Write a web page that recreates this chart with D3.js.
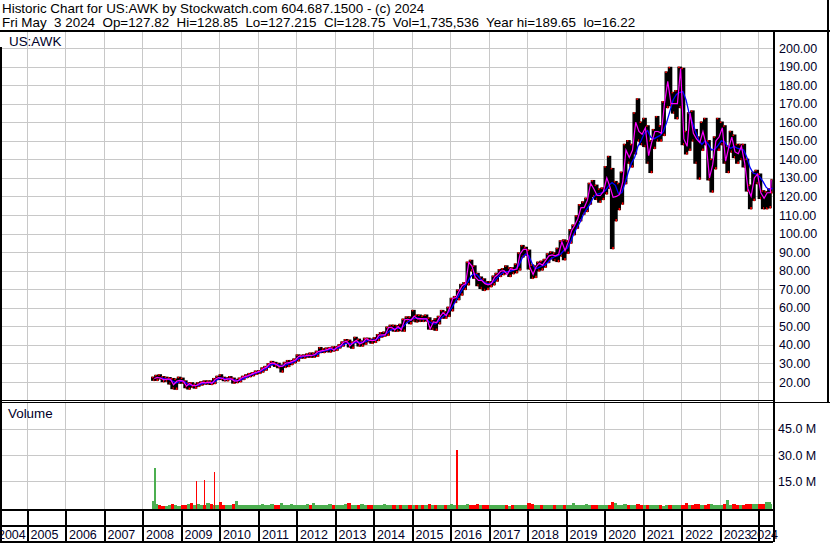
<!DOCTYPE html>
<html><head><meta charset="utf-8">
<script src="https://cdn.jsdelivr.net/npm/d3@7"></script>
<style>
body{margin:0;background:#fff;}
svg{display:block;font-family:Arial,"Liberation Sans",sans-serif;}
.pre{white-space:pre;}
</style></head><body>
<svg id="c" width="830" height="543"></svg>
<script>
// ---------------- DATA ----------------
const firstMonth = "2008-04"; // monthly series start (Apr 2008 .. May 2024)
const hi = [
22.5,23.5,23.8,22.8,22.5,22.3,21.8,21.5,22.5,
22.0,20.5,19.5,19.5,18.8,19.5,20.0,20.5,20.5,20.5,21.8,23.0,
23.8,22.5,22.2,22.8,22.0,21.3,22.0,23.0,23.8,24.5,25.0,25.8,
26.0,27.5,28.3,29.8,31.0,30.5,30.0,29.0,30.5,31.5,31.5,32.3,
34.5,34.3,34.5,35.0,35.5,35.5,36.5,38.5,37.8,38.2,38.5,38.8,
39.0,40.0,41.5,42.8,42.5,41.5,44.0,43.0,42.0,43.5,43.5,43.0,
43.8,45.5,46.5,46.8,49.5,50.5,50.5,50.3,51.0,53.8,55.0,55.0,
58.5,56.0,56.0,55.5,56.0,54.5,53.0,54.0,55.3,58.5,57.8,60.2,
65.0,66.0,69.5,72.5,73.5,84.5,85.5,82.5,78.5,76.5,75.5,74.0,
74.0,77.0,78.5,80.5,81.0,82.5,81.5,81.5,83.5,89.5,93.5,92.5,
91.0,83.0,82.5,84.5,85.0,86.0,89.0,90.0,89.5,92.0,96.0,96.5,
96.0,102.0,104.5,109.5,115.5,117.0,119.0,127.0,128.5,126.0,124.0,124.5,
136.0,141.5,135.0,128.0,127.0,133.0,148.0,150.0,148.0,165.0,172.5,160.0,
162.0,158.0,150.0,156.0,163.0,158.0,171.0,187.0,189.5,176.0,177.0,189.6,
189.0,155.0,165.0,166.0,156.0,152.0,160.0,162.0,150.0,140.0,152.0,162.0,
160.0,158.0,147.0,155.0,153.0,148.0,148.0,148.0,140.0,126.0,133.0,134.0,
132.0,123.0,122.5,124.0,128.9];
const lo = [
21.0,21.0,21.8,20.3,20.5,19.0,16.5,16.2,19.5,
19.5,17.0,16.3,17.3,16.8,17.8,18.5,19.0,19.0,18.8,19.3,21.5,
21.5,20.8,20.8,21.5,19.5,19.8,20.3,21.5,22.5,23.0,23.5,24.3,
24.8,25.5,26.5,28.0,29.3,28.5,27.8,25.5,28.0,28.5,29.5,30.5,
31.5,33.0,33.0,33.5,33.5,33.5,34.0,36.0,36.0,36.5,36.3,36.8,
37.2,38.5,39.5,41.0,39.0,38.3,41.3,39.5,39.5,40.5,41.8,41.0,
41.5,42.5,44.3,44.8,45.3,48.3,47.5,47.5,47.8,47.5,52.5,51.5,
53.0,52.5,52.8,52.8,53.0,48.6,48.5,48.0,51.5,54.5,54.5,55.5,
58.5,63.0,64.5,67.0,70.0,72.5,80.0,76.0,72.0,70.5,69.5,70.0,
71.5,72.5,74.5,77.0,78.0,78.5,77.0,78.5,79.0,80.5,87.5,88.5,
81.0,76.0,76.5,80.0,80.5,82.0,84.5,86.5,85.5,85.0,88.0,86.0,
89.5,95.0,99.5,103.0,107.0,110.5,112.0,116.0,120.0,118.5,117.0,118.5,
121.5,124.5,92.0,107.0,113.0,116.0,127.0,138.0,136.0,143.0,150.0,148.0,
147.0,138.0,133.0,146.0,150.0,150.0,153.0,168.0,169.0,165.0,162.0,168.0,
148.0,143.0,145.0,150.0,138.0,129.5,145.0,148.0,129.0,122.5,135.0,145.0,
148.0,138.0,133.0,144.0,141.0,138.0,140.0,136.0,123.0,113.5,118.0,127.0,
119.0,113.5,113.5,114.0,122.0];
const cl = [
21.9,22.5,22.0,21.2,21.5,21.5,18.5,20.5,20.9,
20.5,17.8,19.2,18.0,18.0,19.1,19.8,19.5,19.9,19.3,21.5,22.4,
22.0,21.2,21.7,21.7,20.5,20.6,21.9,22.8,23.3,24.0,24.8,25.3,
25.9,27.3,28.0,29.8,30.3,29.4,28.3,28.5,30.2,30.4,31.1,31.9,
33.8,34.0,34.0,34.5,34.3,34.8,36.3,36.8,37.1,37.6,38.4,37.1,
38.9,39.6,41.4,42.0,39.5,41.3,42.5,40.5,41.3,43.3,42.5,42.3,
42.6,45.3,45.4,45.4,49.3,49.5,48.0,49.8,48.2,53.5,53.8,53.3,
55.5,54.0,54.2,54.0,54.0,48.6,52.4,52.0,55.1,57.4,55.7,59.7,
65.0,65.5,69.0,72.0,73.0,84.5,82.5,76.6,74.8,74.8,73.0,72.4,
73.0,76.5,77.8,79.8,80.0,78.0,81.0,80.5,80.9,89.0,91.5,91.5,
82.0,78.0,82.0,84.0,83.0,85.5,88.0,88.5,88.0,88.8,95.5,90.7,
95.5,101.5,104.2,108.0,114.0,114.0,118.0,127.0,124.0,120.5,120.5,122.8,
130.0,125.0,119.5,120.0,121.0,128.0,145.0,141.0,145.0,160.0,155.0,153.5,
157.0,142.0,149.0,155.0,155.0,154.0,170.0,182.0,170.0,170.0,170.0,188.9,
151.0,147.0,165.0,154.0,151.0,149.0,155.0,148.0,130.0,137.0,150.0,152.0,
157.0,139.0,146.0,152.0,144.0,143.0,147.0,138.0,124.0,120.0,130.0,132.0,
122.0,119.0,122.0,122.0,128.8];
const ma = [
null,null,22.3,22.0,21.5,21.3,20.5,19.5,20.0,
20.6,19.8,18.5,18.3,18.0,18.3,19.0,19.5,19.7,19.6,20.0,21.3,
22.2,22.0,21.6,21.6,21.3,20.7,20.9,21.7,22.6,23.4,24.1,24.8,
25.3,26.2,27.1,28.3,29.4,29.8,29.2,28.4,28.9,29.6,30.3,31.0,
32.3,33.3,33.9,34.1,34.2,34.3,34.9,35.9,36.7,37.1,37.5,37.6,
38.0,38.6,39.8,40.8,40.9,40.6,41.3,41.5,41.3,41.8,42.4,42.6,
42.5,43.5,44.6,45.3,46.6,48.0,48.7,49.0,48.9,50.0,52.0,53.2,
54.2,54.6,54.3,54.1,54.1,52.5,51.5,51.3,52.8,54.8,56.2,57.5,
60.0,63.0,66.0,69.0,71.5,74.0,77.0,78.5,77.5,75.5,74.0,73.2,
73.0,74.0,75.8,77.5,79.0,79.5,79.5,80.2,80.8,83.0,87.0,89.0,
88.0,84.0,81.0,81.5,82.5,83.0,84.5,86.5,87.5,88.0,89.0,91.0,
92.0,95.5,99.5,103.0,106.0,110.0,113.0,115.5,119.0,121.0,121.5,122.0,
123.5,126.0,127.5,126.0,121.5,122.0,127.0,133.0,138.0,141.0,147.0,150.0,
154.0,155.5,152.0,151.0,152.0,153.0,155.0,160.0,166.0,172.0,175.0,176.0,
176.5,172.0,165.0,160.0,155.0,150.5,148.0,150.0,148.0,145.0,145.5,147.5,
150.0,149.5,147.0,146.0,147.0,146.0,145.5,145.0,141.0,135.5,132.5,132.0,
130.5,128.0,125.0,123.5,124.5];
const vol = [ // typical daily volume, millions
3.5,2.0,1.2,1.0,0.9,1.5,2.0,1.4,1.0,
1.2,1.4,1.8,2.5,1.6,2.2,1.2,1.5,2.8,2.0,1.2,1.6,
3.0,1.4,1.2,1.3,2.0,4.0,1.6,1.2,1.4,1.5,1.2,1.6,
1.4,1.8,1.5,1.3,2.0,1.6,1.3,2.4,1.6,1.4,1.8,1.3,
1.6,1.2,1.4,1.8,1.3,2.6,1.2,1.6,1.2,1.4,1.8,1.6,
1.4,1.6,1.2,1.8,2.4,1.6,1.4,1.2,2.0,1.4,1.2,1.6,
1.2,1.4,1.2,1.8,1.4,1.2,1.6,1.2,1.4,1.6,1.2,1.4,
1.6,1.2,1.4,1.2,1.4,1.8,1.4,1.6,1.2,1.4,1.2,1.6,
1.8,1.6,1.4,1.2,1.4,1.8,1.6,1.4,1.8,1.2,1.6,1.4,
1.4,1.2,1.6,1.2,1.4,1.2,1.0,1.2,1.4,1.6,1.4,1.2,
2.6,1.8,1.4,1.2,1.4,1.2,1.6,1.2,1.4,1.2,1.4,1.6,
1.2,1.4,2.4,1.2,1.4,1.6,1.8,1.4,1.6,1.2,1.4,1.6,
1.4,1.6,3.2,2.4,1.6,1.4,1.8,1.4,1.2,1.6,1.8,1.4,
1.2,1.4,1.6,1.2,1.4,1.2,1.0,1.2,1.4,1.2,1.6,1.4,
1.6,2.4,1.4,1.6,2.2,1.8,1.4,1.6,1.8,2.0,1.6,1.4,
1.6,1.8,4.2,1.4,1.8,1.6,1.4,1.6,1.8,1.8,2.0,1.8,
1.8,2.0,3.0,3.2,2.0];
const spikeDates = ["2008-04-23","2009-05-22","2009-08-08","2009-11-09","2016-02-24"];
const spikeVols  = [22.8, 15.2, 15.7, 20.4, 33.0];
const spikeUp    = [true, false, false, false, false];
const priceTicks = [20,30,40,50,60,70,80,90,100,110,120,130,140,150,160,170,180,190,200];
const volTicks = [15,30,45];
const years = [2004,2005,2006,2007,2008,2009,2010,2011,2012,2013,2014,2015,2016,2017,2018,2019,2020,2021,2022,2023,2024];
const header1 = "Historic Chart for US:AWK by Stockwatch.com 604.687.1500 - (c) 2024";
const header2 = "Fri May  3 2024  Op=127.82  Hi=128.85  Lo=127.215  Cl=128.75  Vol=1,735,536  Year hi=189.65  lo=16.22";

// ---------------- CHART ----------------
const svg = d3.select("#c");
const parseM = d3.timeParse("%Y-%m"), parseD = d3.timeParse("%Y-%m-%d");
const m0 = parseM(firstMonth);
const months = hi.map((_, i) => d3.timeMonth.offset(m0, i));
const endDate = new Date(2024, 4, 3);

const x = d3.scaleTime().domain([new Date(2005,0,1), new Date(2024,0,1)]).range([26.7, 758.3]);
const y = d3.scaleLinear().domain([20, 200]).range([382, 48]);
const yv = d3.scaleLinear().domain([0, 60]).range([507.5, 402.5]);

const PL = 2, PR = 773;
const GRID = "#c8c8c8";

svg.append("rect").attr("width",830).attr("height",543).attr("fill","#fff");

const defs = svg.append("defs");
defs.append("clipPath").attr("id","cp").append("rect").attr("x",PL).attr("y",32).attr("width",PR-PL).attr("height",368);
defs.append("clipPath").attr("id","cv").append("rect").attr("x",PL).attr("y",403).attr("width",PR-PL).attr("height",106);

// grids
const g = svg.append("g").attr("shape-rendering","crispEdges");
priceTicks.forEach(p => g.append("line").attr("x1",PL).attr("x2",PR).attr("y1",Math.round(y(p))+0.5).attr("y2",Math.round(y(p))+0.5).attr("stroke",GRID));
volTicks.forEach(v => g.append("line").attr("x1",PL).attr("x2",PR).attr("y1",Math.round(yv(v))+0.5).attr("y2",Math.round(yv(v))+0.5).attr("stroke",GRID));
years.forEach(yr => {
  const xx = Math.round(x(new Date(yr,0,1)))+0.5;
  if (xx < PL || xx > PR) return;
  g.append("line").attr("x1",xx).attr("x2",xx).attr("y1",32).attr("y2",400).attr("stroke",GRID);
  g.append("line").attr("x1",xx).attr("x2",xx).attr("y1",403).attr("y2",509).attr("stroke",GRID);
});

// price bars
const pg = svg.append("g").attr("clip-path","url(#cp)");
months.forEach((m, i) => {
  const xa = x(m), xb = Math.min(x(d3.timeMonth.offset(m,1)), x(endDate));
  pg.append("rect").attr("x",xa).attr("width",Math.max(1,xb-xa)).attr("y",y(hi[i])).attr("height",y(lo[i])-y(hi[i]))
    .attr("fill","#000").attr("stroke","#000").attr("stroke-width",1.4);
  pg.append("rect").attr("x",xa+(xb-xa)/2).attr("width",Math.max(1,(xb-xa)/2)).attr("y",y(lo[i])-1.5).attr("height",2.5).attr("fill","#ff0000");
  pg.append("rect").attr("x",xa).attr("width",Math.max(1,(xb-xa)/2)).attr("y",y(hi[i])-0.7).attr("height",1.5).attr("fill","#ff0000");
});
// moving averages
const lineCl = d3.line().x((d,i) => x(d3.timeDay.offset(months[i], i===months.length-1 ? 1 : 24))).y(d => y(d));
const lineMa = d3.line().defined(d => d != null).x((d,i) => x(d3.timeDay.offset(months[i], 14))).y(d => y(d));
const lg = svg.append("g").attr("clip-path","url(#cp)").attr("fill","none");
lg.append("path").attr("d", lineMa(ma)).attr("stroke","#0000ff").attr("stroke-width",1.3);
lg.append("path").attr("d", lineCl(cl)).attr("stroke","#ff00ff").attr("stroke-width",1.2);

// volume
const vg = svg.append("g").attr("clip-path","url(#cv)").attr("shape-rendering","crispEdges");
months.forEach((m, i) => {
  const xa = x(m), xb = Math.min(x(d3.timeMonth.offset(m,1)), x(endDate));
  const up = i === 0 ? true : cl[i] >= cl[i-1];
  vg.append("rect").attr("x",xa).attr("width",Math.max(1,xb-xa)).attr("y",yv(vol[i])).attr("height",509-yv(vol[i])).attr("fill", up ? "#4caf50" : "#ff0000");
});
spikeDates.forEach((d, i) => {
  const xx = x(parseD(d));
  vg.append("rect").attr("x",xx).attr("width",1.6).attr("y",yv(spikeVols[i])).attr("height",509-yv(spikeVols[i])).attr("fill", spikeUp[i] ? "#4caf50" : "#ff0000");
});

// frame
const f = svg.append("g").attr("fill","#000").attr("shape-rendering","crispEdges");
f.append("rect").attr("x",0).attr("y",30).attr("width",830).attr("height",2);
f.append("rect").attr("x",0).attr("y",47).attr("width",2).attr("height",496);
f.append("rect").attr("x",PR).attr("y",30).attr("width",2).attr("height",512);
f.append("rect").attr("x",827).attr("y",0).attr("width",2).attr("height",403);
f.append("rect").attr("x",0).attr("y",400).attr("width",PR).attr("height",1);
f.append("rect").attr("x",0).attr("y",402).attr("width",830).attr("height",1);
f.append("rect").attr("x",0).attr("y",509).attr("width",PR).attr("height",2);
f.append("rect").attr("x",0).attr("y",525).attr("width",PR).attr("height",2);
f.append("rect").attr("x",0).attr("y",541).attr("width",PR).attr("height",1.5);
years.forEach(yr => {
  const xx = Math.round(x(new Date(yr,0,1)));
  if (xx < PL || xx > PR) return;
  f.append("rect").attr("x",xx).attr("y",511).attr("width",1.5).attr("height",30);
});

// price axis
const ax = svg.append("g").attr("transform",`translate(${PR+2},0)`)
  .call(d3.axisRight(y).tickValues(priceTicks).tickFormat(d3.format(".2f")).tickSize(0).tickPadding(4));
ax.select(".domain").remove();
ax.selectAll("text").attr("font-size","12.5px").attr("font-family","Arial,'Liberation Sans',sans-serif").attr("fill","#000028");

const vax = svg.append("g").attr("transform",`translate(${PR+2},0)`)
  .call(d3.axisRight(yv).tickValues(volTicks).tickFormat(d => d3.format(".1f")(d) + " M").tickSize(0).tickPadding(3));
vax.select(".domain").remove();
vax.selectAll("text").attr("font-size","12.5px").attr("font-family","Arial,'Liberation Sans',sans-serif").attr("fill","#000028");

// year labels
years.forEach(yr => {
  const a = Math.max(0, x(new Date(yr,0,1)));
  const b = Math.min(PR, x(new Date(yr+1,0,1)));
  svg.append("text").attr("x",(a+b)/2 - 1.5).attr("y",539).attr("text-anchor","middle")
    .attr("font-size","12.5px").attr("fill","#000028").text(yr);
});
svg.append("rect").attr("x",PR).attr("y",511).attr("width",2).attr("height",31).attr("fill","#000");

// texts
svg.append("text").attr("class","pre").attr("x",2).attr("y",12.5).attr("font-size","13.4px").attr("fill","#000").text(header1);
svg.append("text").attr("class","pre").attr("x",2).attr("y",26.5).attr("font-size","13.4px").attr("fill","#000").text(header2);
svg.append("text").attr("x",9).attr("y",45.5).attr("font-size","13.4px").attr("fill","#000028").text("US:AWK");
svg.append("text").attr("x",8).attr("y",418).attr("font-size","13.4px").attr("fill","#000028").text("Volume");
</script>
</body></html>
